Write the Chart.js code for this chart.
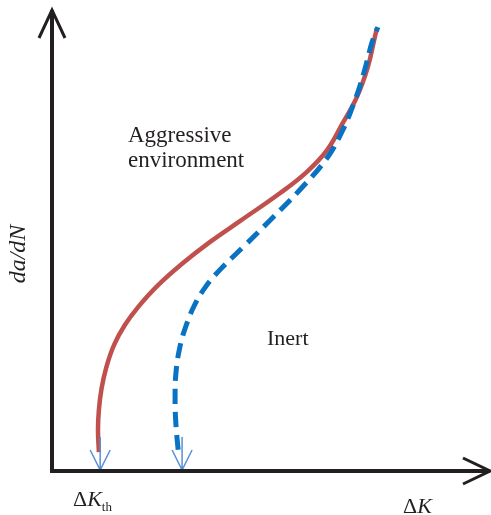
<!DOCTYPE html>
<html>
<head>
<meta charset="utf-8">
<script src="https://cdn.jsdelivr.net/npm/chart.js@4"></script>
<style>
  body { margin: 0; background: #fff; }
  #wrap { width: 491px; height: 515px; }
</style>
</head>
<body>
<div id="wrap"><canvas id="crack-growth" width="491" height="515"></canvas></div>
<script>
// crack growth rate vs stress intensity range (schematic, arbitrary units 0..10)
var aggressiveK    = [1.07, 1.05, 1.07, 1.13, 1.24, 1.42, 1.66, 1.97, 2.40, 2.99, 3.61, 4.29, 5.21, 5.82, 6.28, 6.64, 6.96, 7.21, 7.37, 7.42];
var aggressiveRate = [0.41, 0.89, 1.32, 1.78, 2.25, 2.74, 3.16, 3.56, 4.01, 4.51, 4.97, 5.42, 6.03, 6.49, 6.96, 7.55, 8.11, 8.76, 9.41, 9.61];

var inertK    = [2.88, 2.83, 2.81, 2.83, 2.92, 3.06, 3.25, 3.51, 3.86, 4.41, 4.98, 5.66, 6.28, 6.64, 6.87, 7.03, 7.17, 7.31, 7.44];
var inertRate = [0.46, 1.00, 1.54, 2.13, 2.69, 3.15, 3.59, 4.00, 4.39, 4.90, 5.44, 6.10, 6.79, 7.40, 7.92, 8.35, 8.81, 9.31, 9.63];

// threshold positions marked with small arrows on the ΔK axis
var thresholdK = [1.10, 2.97];

function toPoints(xs, ys) {
    return xs.map(function (x, i) { return { x: x, y: ys[i] }; });
}

// axes with arrowheads, threshold arrows and the text labels
var schematicPlugin = {
    id: "schematic",
    afterDatasetsDraw: function (chart) {
        var ctx = chart.ctx;
        var area = chart.chartArea;
        var xs = chart.scales.x;
        var ys = chart.scales.y;
        ctx.save();

        // threshold arrows
        ctx.strokeStyle = "#5b8fd4";
        ctx.lineWidth = 1.5;
        ctx.lineCap = "butt";
        thresholdK.forEach(function (k) {
            var px = xs.getPixelForValue(k);
            var py = ys.getPixelForValue(0) - 1;
            ctx.beginPath();
            ctx.moveTo(px, py - 33);
            ctx.lineTo(px, py);
            ctx.moveTo(px - 10, py - 20);
            ctx.lineTo(px, py);
            ctx.lineTo(px + 10, py - 20);
            ctx.stroke();
        });

        // axes
        var x0 = area.left;
        var y0 = area.bottom;
        ctx.strokeStyle = "#231f20";
        ctx.lineWidth = 4;
        ctx.lineCap = "square";
        ctx.beginPath();
        ctx.moveTo(x0, area.top + 2);
        ctx.lineTo(x0, y0);
        ctx.lineTo(area.right - 2, y0);
        ctx.stroke();

        ctx.lineWidth = 3;
        ctx.lineCap = "butt";
        ctx.lineJoin = "miter";
        ctx.beginPath();
        ctx.moveTo(x0 - 13, area.top + 28);
        ctx.lineTo(x0, area.top);
        ctx.lineTo(x0 + 13, area.top + 28);
        ctx.stroke();
        ctx.beginPath();
        ctx.moveTo(area.right - 27, y0 - 13);
        ctx.lineTo(area.right, y0);
        ctx.lineTo(area.right - 27, y0 + 13);
        ctx.stroke();

        // labels
        ctx.fillStyle = "#231f20";
        ctx.textBaseline = "alphabetic";
        ctx.textAlign = "left";
        ctx.font = "23px 'Liberation Serif', 'Times New Roman', serif";
        ctx.fillText("Aggressive", 128, 142);
        ctx.fillText("environment", 128, 167);
        ctx.font = "22px 'Liberation Serif', 'Times New Roman', serif";
        ctx.fillText("Inert", 267, 345);

        ctx.font = "22px 'Liberation Serif', serif";
        ctx.fillText("Δ", 73, 506);
        ctx.fillText("Δ", 403, 513);
        var dw = ctx.measureText("Δ").width;
        ctx.font = "italic 22px 'Liberation Serif', serif";
        ctx.fillText("K", 73 + dw, 506);
        var kw = ctx.measureText("K").width;
        ctx.fillText("K", 403 + dw, 513);
        ctx.font = "13px 'Liberation Serif', serif";
        ctx.fillText("th", 73 + dw + kw, 511);

        ctx.translate(25, 254);
        ctx.rotate(-Math.PI / 2);
        ctx.textAlign = "center";
        ctx.font = "italic 24px 'Liberation Serif', serif";
        ctx.fillText("da/dN", 0, 0);

        ctx.restore();
    }
};

var ctx = document.getElementById("crack-growth").getContext("2d");
var myChart = new Chart(ctx, {
    type: "scatter",
    data: {
        datasets: [{
                label: "Inert",
                data: toPoints(inertK, inertRate),
                showLine: true,
                borderColor: "#0a72c2",
                borderWidth: 5,
                borderDash: [15, 8],
                borderCapStyle: "butt",
                tension: 0.4,
                pointRadius: 0
            },
            {
                label: "Aggressive environment",
                data: toPoints(aggressiveK, aggressiveRate),
                showLine: true,
                borderColor: "#c0504d",
                borderWidth: 4.5,
                tension: 0.4,
                pointRadius: 0
            }
        ]
    },
    options: {
        responsive: false,
        animation: false,
        layout: {
            padding: { left: 52, right: 1, top: 10, bottom: 44 }
        },
        scales: {
            x: { type: "linear", min: 0, max: 10, display: false },
            y: { type: "linear", min: 0, max: 10, display: false }
        },
        plugins: {
            legend: { display: false },
            tooltip: { enabled: false }
        }
    },
    plugins: [schematicPlugin]
});
</script>
</body>
</html>
